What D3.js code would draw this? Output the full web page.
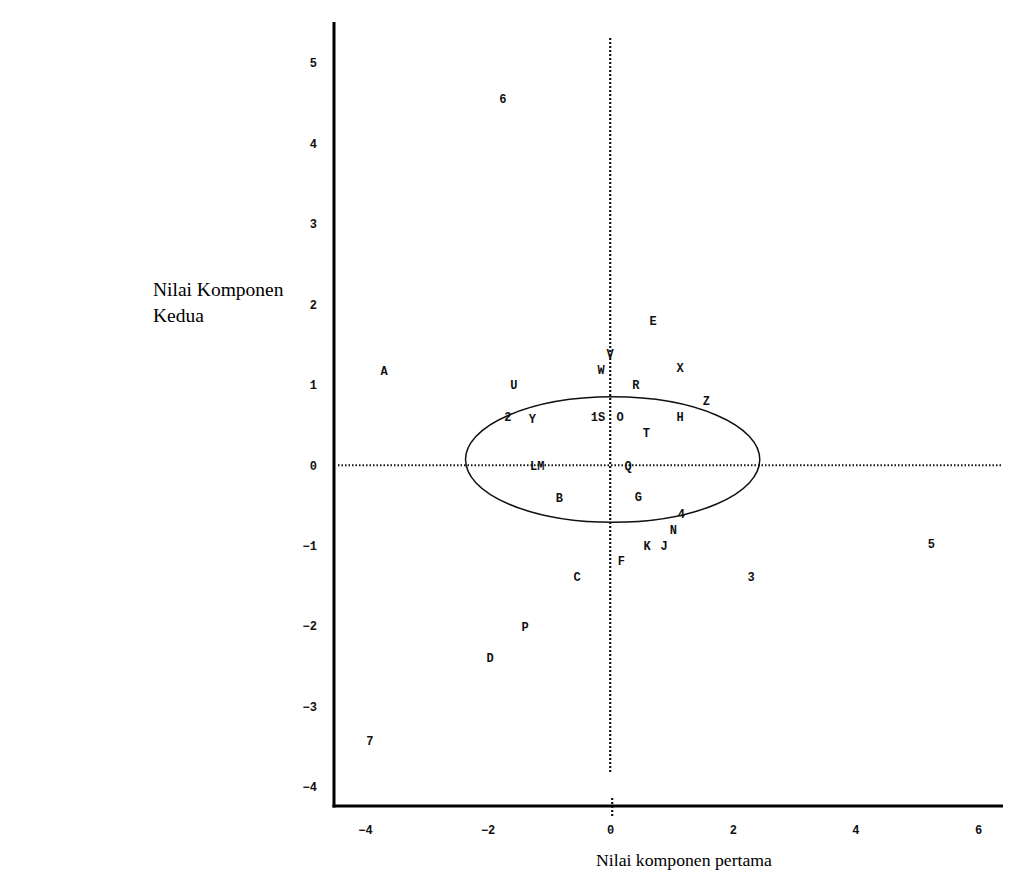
<!DOCTYPE html>
<html>
<head>
<meta charset="utf-8">
<script src="https://cdn.jsdelivr.net/npm/d3@7"></script>
<style>
  body { margin: 0; background: #fff; }
</style>
</head>
<body>
<div id="grafik"></div>
<script>
// nilai komponen pertama (x) dan kedua (y) untuk tiap label
const labels = ["6", "A", "U", "2", "Y", "1S", "O", "V", "W", "X", "R", "Z", "H", "T", "LM", "Q",
                "B", "G", "4", "N", "K", "J", "F", "C", "3", "5", "P", "D", "7", "E"];
const komponen1 = [-1.75, -3.69, -1.57, -1.67, -1.27, -0.2, 0.16, 0.0, -0.15, 1.14, 0.42, 1.57, 1.14, 0.59, -1.19, 0.29,
                   -0.83, 0.46, 1.16, 1.03, 0.6, 0.88, 0.18, -0.54, 2.3, 5.24, -1.39, -1.96, -3.92, 0.7];
const komponen2 = [4.56, 1.17, 1.0, 0.6, 0.58, 0.6, 0.6, 1.39, 1.19, 1.21, 1.0, 0.8, 0.6, 0.4, -0.01, -0.01,
                   -0.41, -0.39, -0.6, -0.8, -1.0, -1.0, -1.19, -1.39, -1.39, -0.98, -2.01, -2.4, -3.42, 1.79];
const xTicks = [-4, -2, 0, 2, 4, 6];
const yTicks = [-4, -3, -2, -1, 0, 1, 2, 3, 4, 5];
// elips: pusat dan jari-jari dalam satuan data
const elipsPusat = [0.04, 0.07];
const elipsJari = [2.4, 0.78];

const width = 1026, height = 885;

const svg = d3.select("#grafik")
    .append("svg")
    .attr("width", width)
    .attr("height", height);

const x = d3.scaleLinear().domain([-4, 6]).range([365, 978]);
const y = d3.scaleLinear().domain([-4, 5]).range([787, 63]);

const sumbuKiri = 334, sumbuBawah = 806;
const mono = "'Liberation Mono', 'DejaVu Sans Mono', monospace";

// garis sumbu tebal
svg.append("line")
    .attr("x1", sumbuKiri).attr("x2", sumbuKiri)
    .attr("y1", 22).attr("y2", sumbuBawah + 1.5)
    .attr("stroke", "#000").attr("stroke-width", 3);
svg.append("line")
    .attr("x1", sumbuKiri - 1.5).attr("x2", 1003)
    .attr("y1", sumbuBawah).attr("y2", sumbuBawah)
    .attr("stroke", "#000").attr("stroke-width", 3);

// label tick
const axY = svg.append("g")
    .attr("transform", `translate(${sumbuKiri - 17},0)`)
    .call(d3.axisLeft(y).tickValues(yTicks).tickSize(0).tickPadding(0).tickFormat(d3.format("d")));
const axX = svg.append("g")
    .attr("transform", `translate(0,${sumbuBawah + 19})`)
    .call(d3.axisBottom(x).tickValues(xTicks).tickSize(0).tickPadding(0).tickFormat(d3.format("d")));
[axY, axX].forEach(ax => {
    ax.select(".domain").remove();
    ax.selectAll("text")
        .attr("font-family", mono)
        .attr("font-weight", "bold")
        .attr("font-size", 12)
        .attr("fill", "#111");
});
axX.selectAll("text").attr("dy", "0.71em");

// garis putus-putus di nol
svg.append("line")
    .attr("x1", sumbuKiri + 4).attr("x2", 1003)
    .attr("y1", y(0)).attr("y2", y(0))
    .attr("stroke", "#111").attr("stroke-width", 2)
    .attr("stroke-dasharray", "1.5,2");
svg.append("line")
    .attr("x1", x(0)).attr("x2", x(0))
    .attr("y1", 38).attr("y2", 772)
    .attr("stroke", "#111").attr("stroke-width", 2.2)
    .attr("stroke-dasharray", "2,2");
svg.append("line")
    .attr("x1", x(0) + 2).attr("x2", x(0) + 2)
    .attr("y1", 798).attr("y2", 818)
    .attr("stroke", "#111").attr("stroke-width", 2.2)
    .attr("stroke-dasharray", "2,2");

// elips
svg.append("ellipse")
    .attr("cx", x(elipsPusat[0]))
    .attr("cy", y(elipsPusat[1]))
    .attr("rx", x(elipsJari[0]) - x(0))
    .attr("ry", y(0) - y(elipsJari[1]))
    .attr("fill", "none")
    .attr("stroke", "#111")
    .attr("stroke-width", 1.5);

// label titik
svg.append("g")
    .selectAll("text")
    .data(labels.map((l, i) => ({ l, a: komponen1[i], b: komponen2[i] })))
    .join("text")
    .attr("x", d => x(d.a))
    .attr("y", d => y(d.b))
    .attr("text-anchor", "middle")
    .attr("dy", "0.35em")
    .attr("font-family", mono)
    .attr("font-weight", "bold")
    .attr("font-size", 12)
    .attr("fill", "#111")
    .text(d => d.l);

// judul sumbu
const serif = "'Liberation Serif', 'Times New Roman', serif";
const judulY = svg.append("text")
    .attr("x", 153).attr("y", 296)
    .attr("font-family", serif).attr("font-size", 19.5);
judulY.append("tspan").attr("x", 153).text("Nilai Komponen");
judulY.append("tspan").attr("x", 153).attr("dy", 26).text("Kedua");

svg.append("text")
    .attr("x", 684).attr("y", 866)
    .attr("text-anchor", "middle")
    .attr("font-family", serif).attr("font-size", 17.7)
    .text("Nilai komponen pertama");
</script>
</body>
</html>
